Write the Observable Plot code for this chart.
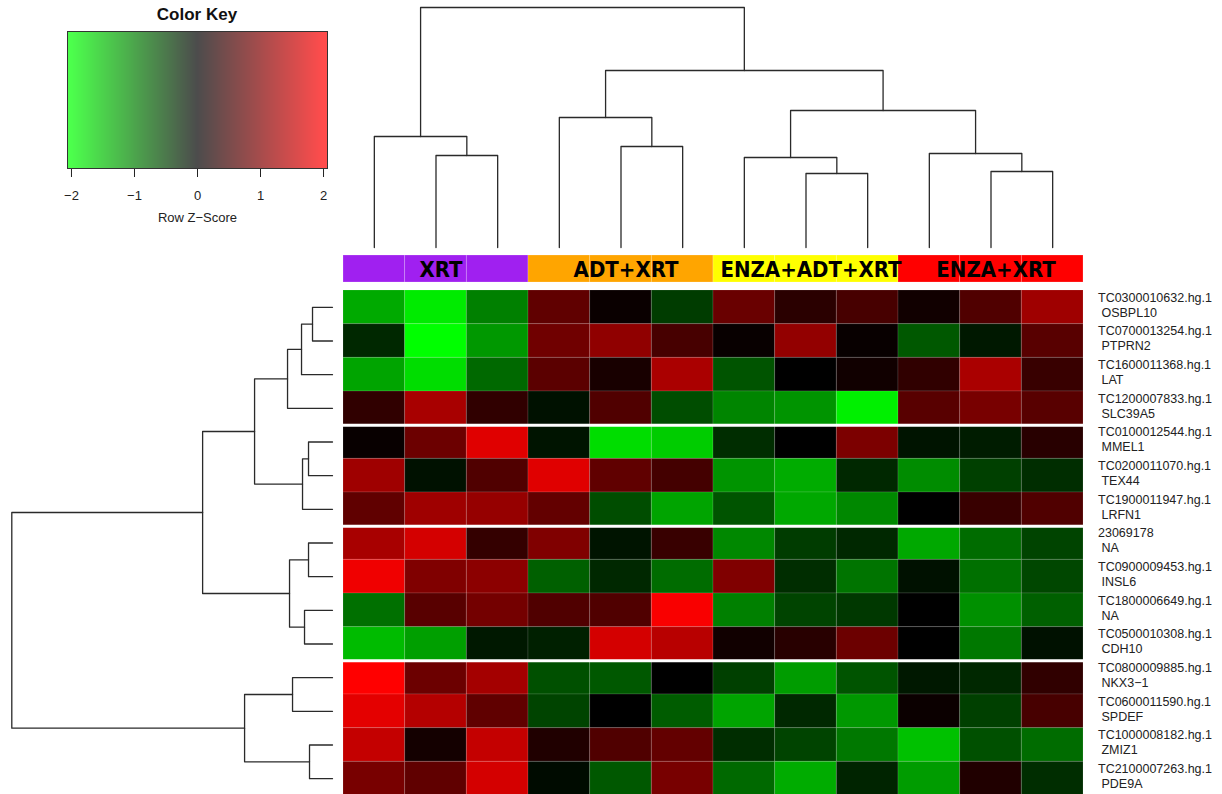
<!DOCTYPE html>
<html><head><meta charset="utf-8">
<script src="https://cdn.jsdelivr.net/npm/d3@7"></script>
<script src="https://cdn.jsdelivr.net/npm/@observablehq/plot@0.6"></script>
<style>
html,body{margin:0;padding:0;background:#fff;}
#root{position:relative;width:1222px;height:794px;overflow:hidden;font-family:"Liberation Sans",Arial,Helvetica,sans-serif;}
#root > *{position:absolute;}
#keytitle{left:97px;width:200px;top:5px;text-align:center;font-weight:bold;font-size:17px;line-height:20px;color:#111;}
</style></head><body><div id="root"><div id="keytitle">Color Key</div></div>
<script>
// ---------------- data ----------------
const groups = ["XRT", "ADT+XRT", "ENZA+ADT+XRT", "ENZA+XRT"];
const groupColors = ["#a020f0", "#ffa500", "#ffff00", "#ff0000"];
const columnGroups = ["XRT","XRT","XRT","ADT+XRT","ADT+XRT","ADT+XRT",
  "ENZA+ADT+XRT","ENZA+ADT+XRT","ENZA+ADT+XRT","ENZA+XRT","ENZA+XRT","ENZA+XRT"];
const probeIds = ["TC0300010632.hg.1","TC0700013254.hg.1","TC1600011368.hg.1","TC1200007833.hg.1",
  "TC0100012544.hg.1","TC0200011070.hg.1","TC1900011947.hg.1","23069178",
  "TC0900009453.hg.1","TC1800006649.hg.1","TC0500010308.hg.1","TC0800009885.hg.1",
  "TC0600011590.hg.1","TC1000008182.hg.1","TC2100007263.hg.1"];
const geneNames = ["OSBPL10","PTPRN2","LAT","SLC39A5","MMEL1","TEX44","LRFN1","NA",
  "INSL6","NA","CDH10","NKX3\u22121","SPDEF","ZMIZ1","PDE9A"];
const zScores = [
  [-1.33,-1.84,-1.00, 0.75, 0.08,-0.47, 0.82, 0.33, 0.56, 0.13, 0.63, 1.25],
  [-0.31,-2.00,-1.19, 0.88, 1.13, 0.56, 0.06, 1.15, 0.06,-0.69,-0.19, 0.69],
  [-1.29,-1.73,-0.82, 0.71, 0.19, 1.33,-0.66, 0.00, 0.13, 0.38, 1.33, 0.44],
  [ 0.38, 1.32, 0.38,-0.13, 0.63,-0.60,-1.04,-1.16,-1.88, 0.69, 0.94, 0.69],
  [ 0.06, 0.85, 1.76,-0.16,-1.73,-1.60,-0.35, 0.00, 0.97,-0.16,-0.22, 0.31],
  [ 1.25,-0.13, 0.63, 1.76, 0.75, 0.53,-1.16,-1.35,-0.31,-1.10,-0.50,-0.35],
  [ 0.75, 1.25, 1.18, 0.78,-0.60,-1.29,-0.66,-1.32,-1.07, 0.00, 0.44, 0.63],
  [ 1.32, 1.66, 0.41, 1.00,-0.16, 0.44,-1.07,-0.47,-0.31,-1.32,-0.85,-0.53],
  [ 1.88, 1.00, 1.10,-0.75,-0.31,-0.85, 1.00,-0.35,-0.91,-0.13,-0.88,-0.56],
  [-0.88, 0.69, 0.91, 0.63, 0.63, 1.95,-1.00,-0.53,-0.44, 0.00,-1.13,-0.75],
  [-1.47,-1.25,-0.19,-0.25, 1.66, 1.44, 0.13, 0.31, 0.85, 0.00,-0.94,-0.13],
  [ 2.00, 0.85, 1.29,-0.63,-0.69, 0.00,-0.50,-1.22,-0.66,-0.19,-0.31, 0.38],
  [ 1.79, 1.41, 0.75,-0.53, 0.00,-0.72,-1.29,-0.31,-1.19, 0.09,-0.50, 0.56],
  [ 1.54, 0.16, 1.54, 0.25, 0.63, 0.78,-0.35,-0.53,-0.94,-1.51,-0.63,-0.85],
  [ 0.94, 0.75, 1.66,-0.09,-0.69, 0.94,-0.82,-1.35,-0.28,-1.22, 0.25,-0.35]
];
const rowSeparators = [4, 7, 11];
// hclust-style merges (negative = leaf in display order, positive = earlier merge)
const colMerge = [[-2,-3],[-1,1],[-5,-6],[-4,3],[-8,-9],[-7,5],[-11,-12],[-10,7],[6,8],[4,9],[2,10]];
const colHeights = [9.2, 11.1, 10.1, 13.0, 7.4, 9.0, 7.6, 9.4, 13.7, 17.7, 24.0];
const rowMerge = [[-1,-2],[-3,1],[-4,2],[-5,-6],[-7,4],[3,5],[-8,-9],[-10,-11],[7,8],[6,9],[-12,-13],[-14,-15],[11,12],[10,13]];
const rowHeights = [2.0, 3.1, 4.5, 2.4, 3.0, 7.8, 2.4, 2.8, 4.3, 13.0, 4.0, 2.3, 8.8, 32.1];
const keyTicks = [-2, -1, 0, 1, 2];
const keyLimits = [-2.063, 2.063];

// ---------------- helpers ----------------
const colorScale = {type: "linear", domain: [-2, 0, 2], range: ["#00ff00", "#000000", "#ff0000"], interpolate: "rgb", clamp: true};
function dendro(merge, heights) {
  const pos = [], segs = [];
  const get = m => m < 0 ? {p: -m - 0.5, h: 0} : {p: pos[m - 1], h: heights[m - 1]};
  merge.forEach(([a, b], k) => {
    const A = get(a), B = get(b), h = heights[k];
    pos[k] = (A.p + B.p) / 2;
    segs.push({id: k, p: A.p, h: A.h}, {id: k, p: A.p, h}, {id: k, p: B.p, h}, {id: k, p: B.p, h: B.h});
  });
  return segs;
}
const root = document.getElementById("root");
function place(el, left, top) { el.style.left = left + "px"; el.style.top = top + "px"; el.style.overflow = "visible"; root.appendChild(el); }
const nCols = columnGroups.length, nRows = probeIds.length;
const cells = [];
zScores.forEach((row, r) => row.forEach((z, c) => cells.push({r, c, z})));

// ---------------- colour key ----------------
const nSteps = 260;
const step = (keyLimits[1] - keyLimits[0]) / nSteps;
const keySteps = d3.range(nSteps).map(i => keyLimits[0] + i * step);
place(Plot.plot({
  width: 340, height: 240, marginLeft: 67, marginRight: 13, marginTop: 31, marginBottom: 72,
  style: {fontFamily: "Liberation Sans, Arial, sans-serif", fontSize: "13px", color: "#222", background: "transparent"},
  x: {domain: keyLimits, ticks: keyTicks, tickSize: 9, tickPadding: 13, tickFormat: d => String(d).replace("-", "\u2212"),
      label: "Row Z\u2212Score", labelAnchor: "center", labelOffset: 53, labelArrow: "none"},
  y: {domain: [0, 1], axis: null},
  color: colorScale,
  marks: [
    Plot.rect(keySteps, {x1: v => v, x2: v => v + step, y1: 0, y2: 1, fill: v => v + step / 2, fillOpacity: 0.7, shapeRendering: "crispEdges"}),
    Plot.frame({stroke: "#333"})
  ]
}), 0, 0);

// ---------------- top dendrogram ----------------
place(Plot.plot({
  width: 740, height: 250, margin: 0,
  x: {domain: [0, nCols], range: [0, 740], axis: null},
  y: {domain: [0, 24], range: [247, 7], axis: null},
  marks: [Plot.line(dendro(colMerge, colHeights), {x: "p", y: "h", z: "id", stroke: "#2a2a2a", strokeWidth: 1.3, curve: "linear"})]
}), 343, 0);

// ---------------- column side colours ----------------
place(Plot.plot({
  width: 740, height: 27, margin: 0,
  x: {domain: [0, nCols], range: [0, 740], axis: null},
  y: {domain: [0, 1], range: [0, 27], axis: null},
  color: {type: "ordinal", domain: groups, range: groupColors},
  marks: [
    Plot.rect(columnGroups, {x1: (g, i) => i, x2: (g, i) => i + 1, y1: 0, y2: 1, fill: g => g, stroke: "#fff", strokeOpacity: 0.25, strokeWidth: 0.8}),
    Plot.text(groups, {
      x: g => d3.mean(columnGroups.map((cg, i) => cg === g ? i + 0.5 : null).filter(v => v !== null)),
      y: 0.5, text: g => g, dx: 5, dy: 1, fill: "#000", fontWeight: "bold", fontSize: 22,
      fontFamily: "DejaVu Sans Condensed, Liberation Sans Narrow, sans-serif"
    })
  ]
}), 343, 255);

// ---------------- heatmap + row labels ----------------
place(Plot.plot({
  width: 879, height: 505, marginLeft: 0, marginRight: 139, marginTop: 0, marginBottom: 0,
  style: {fontFamily: "Liberation Sans, Arial, sans-serif", background: "transparent"},
  x: {domain: [0, nCols], range: [0, 740], axis: null},
  y: {domain: [0, nRows], range: [0, 505], axis: null},
  color: colorScale,
  marks: [
    Plot.rect(cells, {x1: d => d.c, x2: d => d.c + 1, y1: d => d.r, y2: d => d.r + 1, fill: "z", stroke: "#fff", strokeOpacity: 0.12, strokeWidth: 1}),
    Plot.ruleY(rowSeparators, {stroke: "#fff", strokeWidth: 3}),
    Plot.text(probeIds, {
      x: nCols, y: (d, i) => i + 0.5, text: (d, i) => d + "\n\u00a0" + geneNames[i],
      textAnchor: "start", lineAnchor: "middle", lineHeight: 1.2, dx: 14.5, dy: -3,
      fontSize: 12.5, fill: "#222"
    })
  ]
}), 343, 290);

// ---------------- row dendrogram ----------------
place(Plot.plot({
  width: 343, height: 505, margin: 0,
  x: {domain: [0, 32.1], range: [332, 11.3], axis: null},
  y: {domain: [0, nRows], range: [0, 505], axis: null},
  marks: [Plot.line(dendro(rowMerge, rowHeights), {x: "h", y: "p", z: "id", stroke: "#2a2a2a", strokeWidth: 1.3})]
}), 0, 290);
</script>
</body></html>
